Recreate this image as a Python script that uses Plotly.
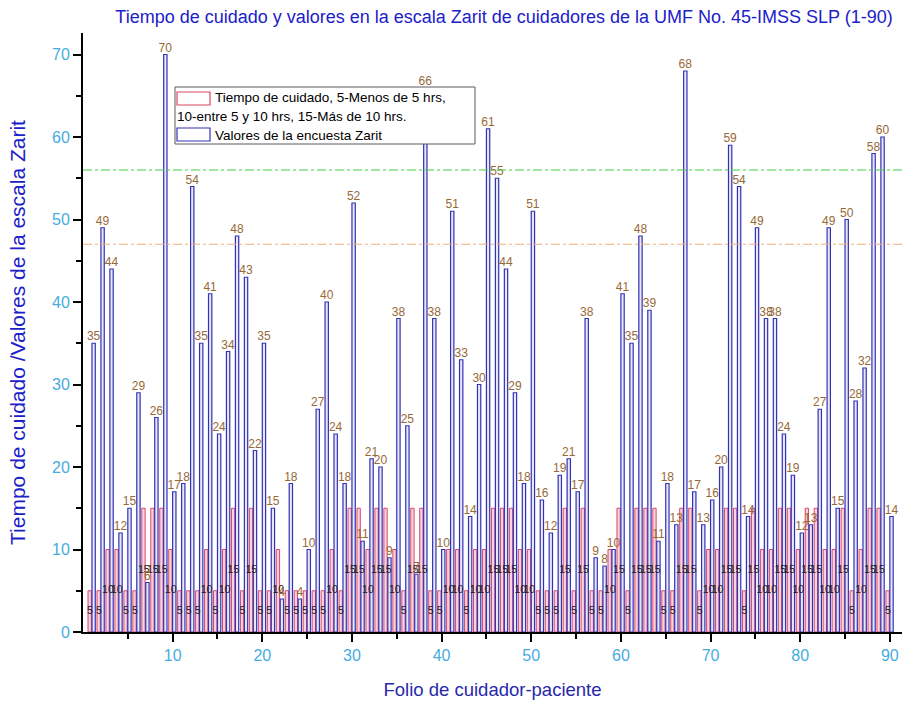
import plotly.graph_objects as go

# Folio de cada cuidador-paciente
folio = list(range(1, 91))

# Puntuación en la encuesta Zarit
zarit = [35, 49, 44, 12, 15, 29, 6, 26, 70, 17,
         18, 54, 35, 41, 24, 34, 48, 43, 22, 35,
         15, 4, 18, 4, 10, 27, 40, 24, 18, 52,
         11, 21, 20, 9, 38, 25, 7, 66, 38, 10,
         51, 33, 14, 30, 61, 55, 44, 29, 18, 51,
         16, 12, 19, 21, 17, 38, 9, 8, 10, 41,
         35, 48, 39, 11, 18, 13, 68, 17, 13, 16,
         20, 59, 54, 14, 49, 38, 38, 24, 19, 12,
         13, 27, 49, 15, 50, 28, 32, 58, 60, 14]

# Tiempo de cuidado codificado: 5 (<5 h), 10 (5-10 h), 15 (>10 h)
tiempo = [5, 5, 10, 10, 5, 5, 15, 15, 15, 10,
          5, 5, 5, 10, 5, 10, 15, 5, 15, 5,
          5, 10, 5, 5, 5, 5, 5, 10, 5, 15,
          15, 10, 15, 15, 10, 5, 15, 15, 5, 5,
          10, 10, 5, 10, 10, 15, 15, 15, 10, 10,
          5, 5, 5, 15, 5, 15, 5, 5, 10, 15,
          5, 15, 15, 15, 5, 5, 15, 15, 5, 10,
          10, 15, 15, 5, 15, 10, 10, 15, 15, 10,
          15, 15, 10, 10, 15, 5, 10, 15, 15, 5]

# Puntos de corte de la escala Zarit
corte_leve = 47
corte_intensa = 56

x_ticks = [10, 20, 30, 40, 50, 60, 70, 80, 90]
y_ticks = [0, 10, 20, 30, 40, 50, 60, 70]

W, H = 902, 702
ML, MR, MT, MB = 83, 0, 33, 70
PW, PH = W - ML - MR, H - MT - MB


def px_x(p):
    return (p - ML) / PW


def px_y(p):
    return (H - MB - p) / PH


RED_LINE = "rgb(218,70,100)"
RED_FILL = "rgb(247,212,224)"
BLUE_LINE = "rgb(50,50,180)"
BLUE_FILL = "rgb(232,232,248)"
TICK_COLOR = "rgb(70,172,225)"
TITLE_BLUE = "rgb(32,32,200)"
NARROW = "Liberation Sans Narrow, Arial Narrow, Liberation Sans, Arial, sans-serif"
SANS = "Liberation Sans, Arial, sans-serif"

fig = go.Figure()

fig.add_bar(x=folio, y=tiempo, offset=-0.44, width=0.37,
            marker=dict(color=RED_FILL, line=dict(color=RED_LINE, width=1)),
            name="Tiempo de cuidado", showlegend=False)
fig.add_bar(x=folio, y=zarit, offset=0.0, width=0.37,
            marker=dict(color=BLUE_FILL, line=dict(color=BLUE_LINE, width=1.2)),
            name="Valores de la encuesta Zarit", showlegend=False)

# Etiquetas de valor
fig.add_scatter(x=[f - 0.22 for f in folio], y=[t / 2 for t in tiempo],
                mode="text", text=[str(t) for t in tiempo],
                textposition="middle center",
                textfont=dict(family=SANS, size=10.5, color="rgb(30,30,30)"),
                showlegend=False, hoverinfo="skip")
fig.add_scatter(x=[f + 0.18 for f in folio], y=zarit,
                mode="text", text=[str(z) for z in zarit],
                textposition="top center",
                textfont=dict(family=SANS, size=12, color="rgb(150,105,55)"),
                showlegend=False, hoverinfo="skip")

# Líneas de corte
fig.add_shape(type="line", xref="paper", x0=0, x1=1, yref="y", y0=corte_leve, y1=corte_leve,
              line=dict(color="rgb(236,178,120)", width=1.2, dash="dashdot"), layer="above")
fig.add_shape(type="line", xref="paper", x0=0, x1=1, yref="y", y0=corte_intensa, y1=corte_intensa,
              line=dict(color="rgb(70,205,70)", width=1.2, dash="dashdot"), layer="above")

# Leyenda
fig.add_shape(type="rect", xref="paper", yref="paper",
              x0=px_x(175), x1=px_x(475), y0=px_y(144), y1=px_y(87),
              fillcolor="white", line=dict(color="rgb(90,90,90)", width=1), layer="above")
fig.add_shape(type="rect", xref="paper", yref="paper",
              x0=px_x(177), x1=px_x(210), y0=px_y(105), y1=px_y(92),
              fillcolor="white", line=dict(color=RED_LINE, width=1.2), layer="above")
fig.add_shape(type="rect", xref="paper", yref="paper",
              x0=px_x(177), x1=px_x(210), y0=px_y(141), y1=px_y(128),
              fillcolor="white", line=dict(color=BLUE_LINE, width=1.2), layer="above")
legend_font = dict(family=SANS, size=13.5, color="black")
for text, x, y in [("Tiempo de cuidado, 5-Menos de 5 hrs,", 213, 97),
                   ("10-entre 5 y 10 hrs, 15-Más de 10 hrs.", 175, 116.5),
                   ("Valores de la encuesta Zarit", 213, 135)]:
    fig.add_annotation(text=text, xref="paper", yref="paper", x=px_x(x), y=px_y(y),
                       xanchor="left", yanchor="middle", showarrow=False, font=legend_font)

fig.update_layout(
    width=W, height=H,
    margin=dict(l=ML, r=MR, t=MT, b=MB),
    paper_bgcolor="white", plot_bgcolor="white",
    barmode="overlay",
    title=dict(text="Tiempo de cuidado y valores en la escala Zarit de cuidadores de la UMF No. 45-IMSS SLP (1-90)",
               x=504 / W, xanchor="center", y=1 - 17 / H, yanchor="middle",
               font=dict(family=NARROW, size=18, color=TITLE_BLUE)),
    xaxis=dict(range=[0, PW / 8.965], tickvals=x_ticks, ticks="outside", ticklen=8, tickwidth=2,
               tickcolor="black", showline=True, linecolor="black", linewidth=2,
               showgrid=False, zeroline=False,
               tickfont=dict(family=NARROW, size=16, color=TICK_COLOR),
               minor=dict(tickvals=[5, 15, 25, 35, 45, 55, 65, 75, 85], ticks="outside",
                          ticklen=5, tickwidth=1.5, tickcolor="black"),
               title=dict(text="Folio de cuidador-paciente", standoff=20,
                          font=dict(family=NARROW, size=18.5, color="rgb(40,40,170)"))),
    yaxis=dict(range=[0, PH / 8.25], tickvals=y_ticks, ticks="outside", ticklen=8, tickwidth=2,
               tickcolor="black", showline=True, linecolor="black", linewidth=2,
               showgrid=False, zeroline=False,
               tickfont=dict(family=NARROW, size=16, color=TICK_COLOR),
               minor=dict(tickvals=[5, 15, 25, 35, 45, 55, 65], ticks="outside",
                          ticklen=5, tickwidth=1.5, tickcolor="black"),
               title=dict(text="Tiempo de cuidado /Valores de la escala Zarit", standoff=21,
                          font=dict(family=SANS, size=21, color=TITLE_BLUE))),
)

fig.write_html("out.html")
